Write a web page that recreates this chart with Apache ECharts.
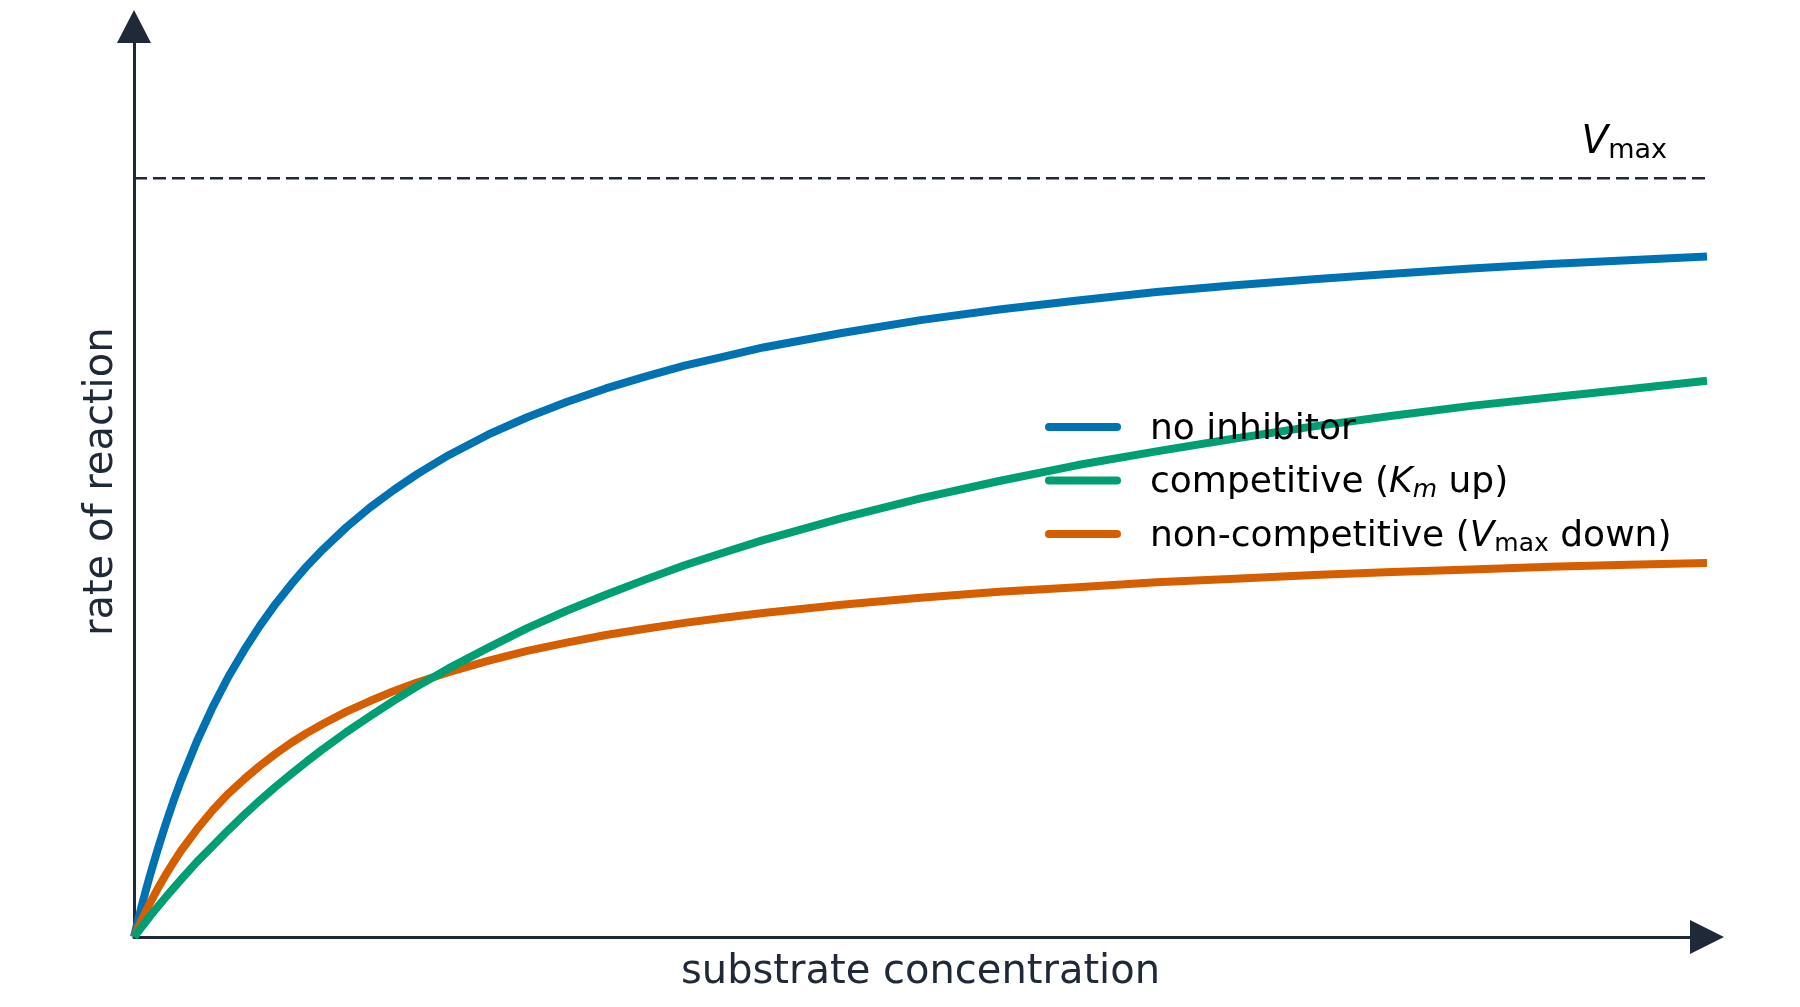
<!DOCTYPE html>
<html>
<head>
<meta charset="utf-8">
<script src="https://cdn.jsdelivr.net/npm/echarts@6/dist/echarts.min.js"></script>
<style>
html,body{margin:0;padding:0;background:#fff;}
#chart{width:1800px;height:1007px;}
</style>
</head>
<body>
<div id="chart"></div>
<script>
// substrate concentration (arbitrary units)
const sValues = [0,0.025,0.05,0.075,0.1,0.15,0.2,0.25,0.3,0.4,0.5,0.6,0.7,0.8,0.9,1,1.1,1.2,1.35,1.5,1.65,1.8,2,2.25,2.5,2.75,3,3.25,3.5,3.75,4,4.5,5,5.5,6,6.5,7,7.5,8,8.5,9,9.5,10];
// rate of reaction (fraction of Vmax)
const noInhibitor = [0,0.0213,0.042,0.0612,0.080,0.115,0.148,0.1786,0.207,0.258,0.303,0.343,0.378,0.410,0.439,0.465,0.489,0.5106,0.540,0.566,0.589,0.610,0.635,0.662,0.685,0.705,0.723,0.7386,0.753,0.765,0.777,0.796,0.813,0.827,0.839,0.850,0.859,0.867,0.874,0.881,0.887,0.892,0.897];
const competitive = [0,0.0068,0.0135,0.0201,0.027,0.0395,0.052,0.0641,0.076,0.099,0.120,0.141,0.161,0.180,0.198,0.215,0.2316,0.2474,0.270,0.291,0.3113,0.3303,0.354,0.381,0.407,0.430,0.451,0.471,0.490,0.5068,0.523,0.552,0.578,0.601,0.622,0.640,0.657,0.673,0.687,0.700,0.711,0.722,0.733];
const nonCompetitive = [0,0.0117,0.023,0.0337,0.044,0.0635,0.0815,0.0982,0.114,0.142,0.167,0.189,0.208,0.2255,0.2415,0.256,0.269,0.2808,0.297,0.311,0.324,0.3355,0.349,0.364,0.377,0.388,0.398,0.4062,0.414,0.4208,0.427,0.438,0.447,0.455,0.461,0.4675,0.472,0.477,0.481,0.4845,0.488,0.4905,0.493];
const vmaxValue = 1;
const seriesNames = ['no inhibitor', 'competitive (K_m up)', 'non-competitive (V_max down)'];
const legendLabels = ['no inhibitor', 'competitive ({it|K}{subi|m} up)', 'non-competitive ({it|V}{sub|max} down)'];
const xAxisName = 'substrate concentration';
const yAxisName = 'rate of reaction';

const FONT = 'DejaVu Sans';
const AXIS = '#1f2937';
const colors = ['#0072B2', '#009E73', '#D55E00'];

const pairs = arr => sValues.map((s, i) => [s, arr[i]]);
const sMax = sValues[sValues.length - 1];

const chart = echarts.init(document.getElementById('chart'), null, {renderer: 'canvas'});
const curve = (i, data, z) => ({
  name: seriesNames[i], type: 'line', z: z, data: pairs(data),
  showSymbol: false, symbol: 'none', color: colors[i],
  smooth: false,
  lineStyle: {color: colors[i], width: 8, cap: 'butt', join: 'round'}
});
chart.setOption({
  animation: false,
  backgroundColor: '#ffffff',
  grid: {left: 134, right: 93, top: 26.5, bottom: 70, containLabel: false},
  xAxis: {
    type: 'value', min: 0, max: sMax,
    name: xAxisName, nameLocation: 'middle', nameGap: 16,
    nameTextStyle: {fontFamily: FONT, fontSize: 40, color: AXIS},
    axisLine: {show: true, lineStyle: {color: AXIS, width: 3}, symbol: ['none', 'triangle'], symbolSize: [34, 34]},
    axisTick: {show: false}, axisLabel: {show: false}, splitLine: {show: false}
  },
  yAxis: {
    type: 'value', min: 0, max: 1.2,
    name: yAxisName, nameLocation: 'middle', nameGap: 12,
    nameTextStyle: {fontFamily: FONT, fontSize: 40, color: AXIS},
    axisLine: {show: true, lineStyle: {color: AXIS, width: 3}, symbol: ['none', 'triangle'], symbolSize: [34, 33]},
    axisTick: {show: false}, axisLabel: {show: false}, splitLine: {show: false}
  },
  legend: {
    data: seriesNames,
    orient: 'vertical',
    left: 1040, top: 399.5, z: 10,
    itemWidth: 76, itemHeight: 8.5, itemGap: 8.5,
    icon: 'path://M4 0H72A4 4 0 0 1 72 8H4A4 4 0 0 1 4 0Z',
    itemStyle: {borderWidth: 0},
    selectedMode: false,
    formatter: name => legendLabels[seriesNames.indexOf(name)],
    textStyle: {
      fontFamily: FONT, fontSize: 36, lineHeight: 40, color: '#000000', padding: [5, 0, 0, 24],
      rich: {
        it: {fontFamily: FONT, fontSize: 36, fontStyle: 'italic', lineHeight: 40, color: '#000000'},
        subi: {fontFamily: FONT, fontSize: 25, fontStyle: 'italic', lineHeight: 22, verticalAlign: 'bottom', color: '#000000'},
        sub: {fontFamily: FONT, fontSize: 25, lineHeight: 22, verticalAlign: 'bottom', color: '#000000'}
      }
    }
  },
  series: [
    {
      name: 'Vmax line', type: 'line', z: 1, silent: true,
      data: [[0, vmaxValue], [sMax, vmaxValue]],
      showSymbol: false, symbol: 'none',
      lineStyle: {color: AXIS, width: 2.5, type: [13, 6]}
    },
    {
      name: 'Vmax label', type: 'scatter', z: 5, silent: true,
      data: [[sMax, vmaxValue]],
      symbolSize: 0,
      itemStyle: {opacity: 1},
      label: {
        show: true, position: 'top', distance: 14, align: 'right', offset: [-40, 0],
        formatter: '{v|V}{s|max}',
        rich: {
          v: {fontFamily: FONT, fontSize: 39, fontStyle: 'italic', lineHeight: 42, color: '#000000'},
          s: {fontFamily: FONT, fontSize: 27, lineHeight: 21, verticalAlign: 'bottom', color: '#000000'}
        }
      }
    },
    curve(0, noInhibitor, 2),
    curve(1, competitive, 4),
    curve(2, nonCompetitive, 3)
  ]
});
</script>
</body>
</html>
